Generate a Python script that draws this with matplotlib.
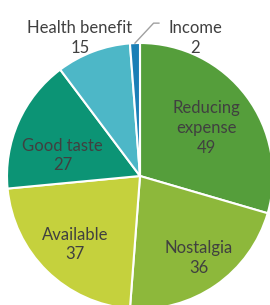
import numpy as np
import matplotlib.pyplot as plt

plt.rcParams['font.family'] = ['Lato', 'DejaVu Sans']

labels = ["Reducing\nexpense", "Nostalgia", "Available", "Good taste", "Health benefit", "Income"]
values = [49, 36, 37, 27, 15, 2]
colors = ["#559e3b", "#8db83b", "#c5d13d", "#0c9475", "#4db7c7", "#1b7fb6"]

fig = plt.figure(figsize=(2.70, 3.05), dpi=100)
ax = fig.add_axes([0, 0, 1, 1])

wedges, _ = ax.pie(values, colors=colors, startangle=90, counterclock=False,
                   radius=1.0, wedgeprops=dict(edgecolor="white", linewidth=1.5))

# label placement (radius factor, angle nudge in degrees) per wedge
lab_r = [0.62, 0.76, 0.71, 0.60, 1.13, 1.12]
lab_da = [-1, 1, 1, 9, 3, -24]
txt = "#404040"
for w, lab, v, r, da in zip(wedges, labels, values, lab_r, lab_da):
    ang = np.deg2rad((w.theta1 + w.theta2) / 2 + da)
    x, y = r * np.cos(ang), r * np.sin(ang)
    ax.text(x, y, f"{lab}\n{v}", ha="center", va="center", fontsize=12,
            color=txt, linespacing=1.3)

# leader line for the small Income slice
w = wedges[-1]
a = np.deg2rad((w.theta1 + w.theta2) / 2)
x0, y0 = np.cos(a), np.sin(a)
ax.plot([x0, x0 + 0.14, x0 + 0.18], [y0, y0 + 0.15, y0 + 0.15], color="#a0a0a0", lw=1)

ax.set_xlim(-140 / 133, 130 / 133)
ax.set_ylim(-129 / 133, 176 / 133)
ax.set_aspect("auto")
ax.axis("off")

fig.savefig("out.png", dpi=100)
